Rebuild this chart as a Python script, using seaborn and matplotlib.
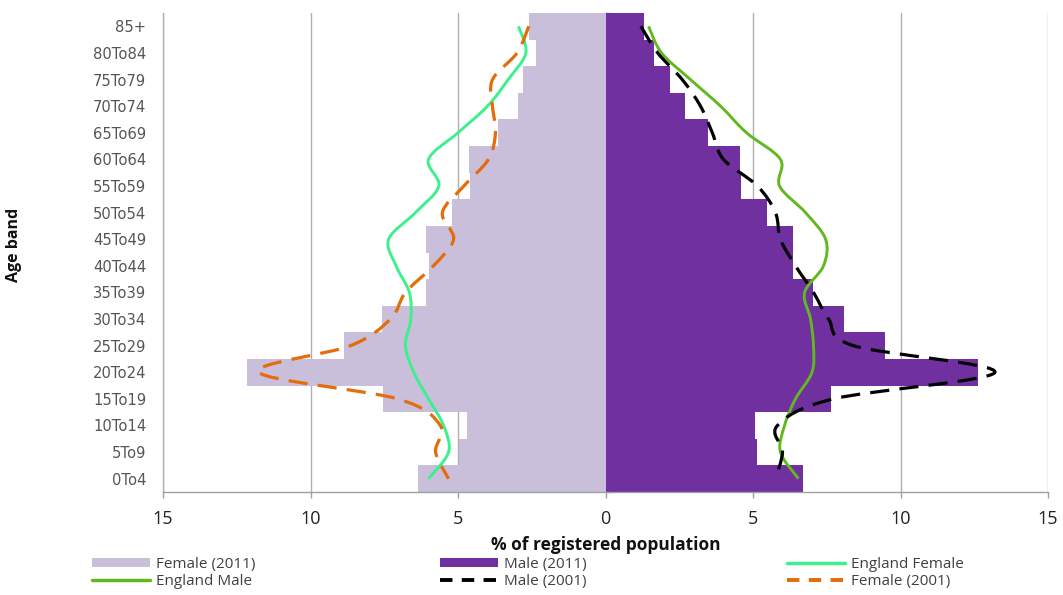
import numpy as np
import pandas as pd
import matplotlib
matplotlib.use("Agg")
import matplotlib.pyplot as plt
from matplotlib.path import Path
from matplotlib.patches import PathPatch, Patch
from matplotlib.lines import Line2D
import seaborn as sns

# ---------------- data (top band first) ----------------
age_bands = ["85+", "80To84", "75To79", "70To74", "65To69", "60To64", "55To59",
             "50To54", "45To49", "40To44", "35To39", "30To34", "25To29",
             "20To24", "15To19", "10To14", "5To9", "0To4"]
female_2011 = [2.60, 2.37, 2.78, 2.98, 3.66, 4.64, 4.58, 5.22, 6.10, 6.00,
               6.10, 7.56, 8.88, 12.14, 7.53, 4.71, 4.98, 6.34]
male_2011 = [1.29, 1.63, 2.20, 2.71, 3.49, 4.55, 4.60, 5.49, 6.37, 6.37,
             7.05, 8.07, 9.49, 12.64, 7.66, 5.08, 5.15, 6.71]
england_female = [2.95, 2.70, 3.30, 4.00, 5.00, 6.00, 5.65, 6.44, 7.35, 7.10,
                  6.65, 6.60, 6.78, 6.50, 6.00, 5.49, 5.32, 6.00]
england_male = [1.46, 1.90, 2.88, 3.90, 4.78, 5.93, 5.90, 6.78, 7.46, 7.39,
                6.75, 6.95, 7.05, 7.00, 6.44, 6.07, 5.93, 6.54]
female_2001 = [2.60, 3.00, 3.83, 3.83, 3.73, 3.97, 4.80, 5.53, 5.15, 5.83,
               6.78, 7.29, 8.64, 11.76, 7.05, 5.60, 5.76, 5.32]
male_2001 = [1.20, 1.77, 2.60, 3.22, 3.62, 4.00, 5.15, 5.76, 5.93, 6.44,
             7.05, 7.56, 8.40, 13.20, 7.73, 5.83, 6.00, 5.76]
x_ticks = [-15, -10, -5, 0, 5, 10, 15]
x_ticklabels = ["15", "10", "5", "0", "5", "10", "15"]

# ---------------- style ----------------
sns.set_style("white")
plt.rcParams["font.family"] = ["Open Sans", "DejaVu Sans"]

C_FEM = "#C9BFDB"
C_MALE = "#7030A0"
C_ENG_F = "#3CF08E"
C_ENG_M = "#62B91F"
C_F01 = "#E46C0A"
C_M01 = "#000000"

fig = plt.figure(figsize=(10.63, 5.95), dpi=100)
ax = fig.add_axes([163 / 1063, 1 - 492 / 595, (1048 - 163) / 1063, (492 - 13) / 595])

df = pd.DataFrame({"age": age_bands,
                   "female": -np.array(female_2011),
                   "male": np.array(male_2011)})

sns.barplot(data=df, x="female", y="age", order=age_bands, orient="h",
            color=C_FEM, width=1.0, saturation=1, ax=ax, zorder=2)
sns.barplot(data=df, x="male", y="age", order=age_bands, orient="h",
            color=C_MALE, width=1.0, saturation=1, ax=ax, zorder=2)
for p in ax.patches:
    p.set_linewidth(0)


def smooth_path(xs, ys):
    pts = np.column_stack([xs, ys]).astype(float)
    n = len(pts)
    verts = [pts[0]]
    codes = [Path.MOVETO]
    for i in range(n - 1):
        p0 = pts[i - 1] if i > 0 else pts[i]
        p1 = pts[i]
        p2 = pts[i + 1]
        p3 = pts[i + 2] if i + 2 < n else pts[i + 1]
        c1 = p1 + (p2 - p0) / 6.0
        c2 = p2 - (p3 - p1) / 6.0
        verts += [c1, c2, p2]
        codes += [Path.CURVE4] * 3
    return Path(verts, codes)


ypos = np.arange(len(age_bands))
series = [
    (-np.array(england_female), C_ENG_F, "-", 2.1),
    (np.array(england_male), C_ENG_M, "-", 2.1),
    (-np.array(female_2001), C_F01, (0, (6.0, 3.2)), 2.3),
    (np.array(male_2001), C_M01, (0, (6.0, 3.2)), 2.3),
]
for xs, col, ls, lw in series:
    ax.add_patch(PathPatch(smooth_path(xs, ypos), fill=False, edgecolor=col,
                           linewidth=lw, linestyle=ls, zorder=4,
                           capstyle="butt"))

ax.set_xlim(-15, 15)
ax.set_ylim(len(age_bands) - 0.5, -0.5)
ax.set_xticks(x_ticks)
ax.set_xticklabels(x_ticklabels)
ax.grid(axis="x", color="#B0B0B0", linewidth=1.0, zorder=0)
ax.grid(axis="y", visible=False)
ax.set_axisbelow(True)

for s in ["top", "right"]:
    ax.spines[s].set_visible(False)
ax.spines["left"].set_color("#B0B0B0")
ax.spines["bottom"].set_color("#A0A0A0")
ax.spines["left"].set_linewidth(1.0)
ax.spines["bottom"].set_linewidth(1.0)

ax.tick_params(axis="y", length=0, pad=12, labelcolor="#555555")
for t in ax.get_yticklabels():
    t.set_fontfamily(["DejaVu Sans"])
    t.set_fontsize(10.6)
ax.tick_params(axis="x", length=4, width=1, color="#A0A0A0", pad=9,
               labelsize=13, labelcolor="#222222", direction="out")
ax.xaxis.set_ticks_position("bottom")

# small tick marks along the zero axis between age bands
sec = ax.secondary_yaxis(0.5)
sec.set_yticks(np.arange(len(age_bands) + 1) - 0.5)
sec.set_yticklabels([])
sec.tick_params(axis="y", length=4, width=1, color="#A0A0A0", direction="out")
sec.spines["left"].set_visible(False)

ax.set_xlabel("% of registered population", fontsize=12.5, fontweight="bold",
              labelpad=6, color="#111111")
ax.set_ylabel("Age band", fontsize=11.5, fontweight="bold", color="#111111")
ax.yaxis.set_label_coords(-0.159, 0.516)

# legends (three columns of two rows)
h_fem = Patch(facecolor=C_FEM, edgecolor="none")
h_male = Patch(facecolor=C_MALE, edgecolor="none")
h_engf = Line2D([], [], color=C_ENG_F, lw=2.5)
h_engm = Line2D([], [], color=C_ENG_M, lw=2.5)
h_m01 = Line2D([], [], color=C_M01, lw=2.8, linestyle=(0, (3.2, 2.4)))
h_f01 = Line2D([], [], color=C_F01, lw=2.8, linestyle=(0, (3.2, 2.4)))

cols = [
    (92, [h_fem, h_engm], ["Female (2011)", "England Male"]),
    (440, [h_male, h_m01], ["Male (2011)", "Male (2001)"]),
    (787, [h_engf, h_f01], ["England Female", "Female (2001)"]),
]
for xpx, hs, labs in cols:
    leg = fig.legend(hs, labs, loc="upper left",
                     bbox_to_anchor=(xpx / 1063, 1 - 557 / 595),
                     frameon=False, fontsize=11.0, handlelength=3.8,
                     handleheight=0.6, handletextpad=0.4, labelspacing=0.12,
                     borderpad=0, borderaxespad=0)
    for t in leg.get_texts():
        t.set_color("#404040")

fig.savefig("out.png", dpi=100)
